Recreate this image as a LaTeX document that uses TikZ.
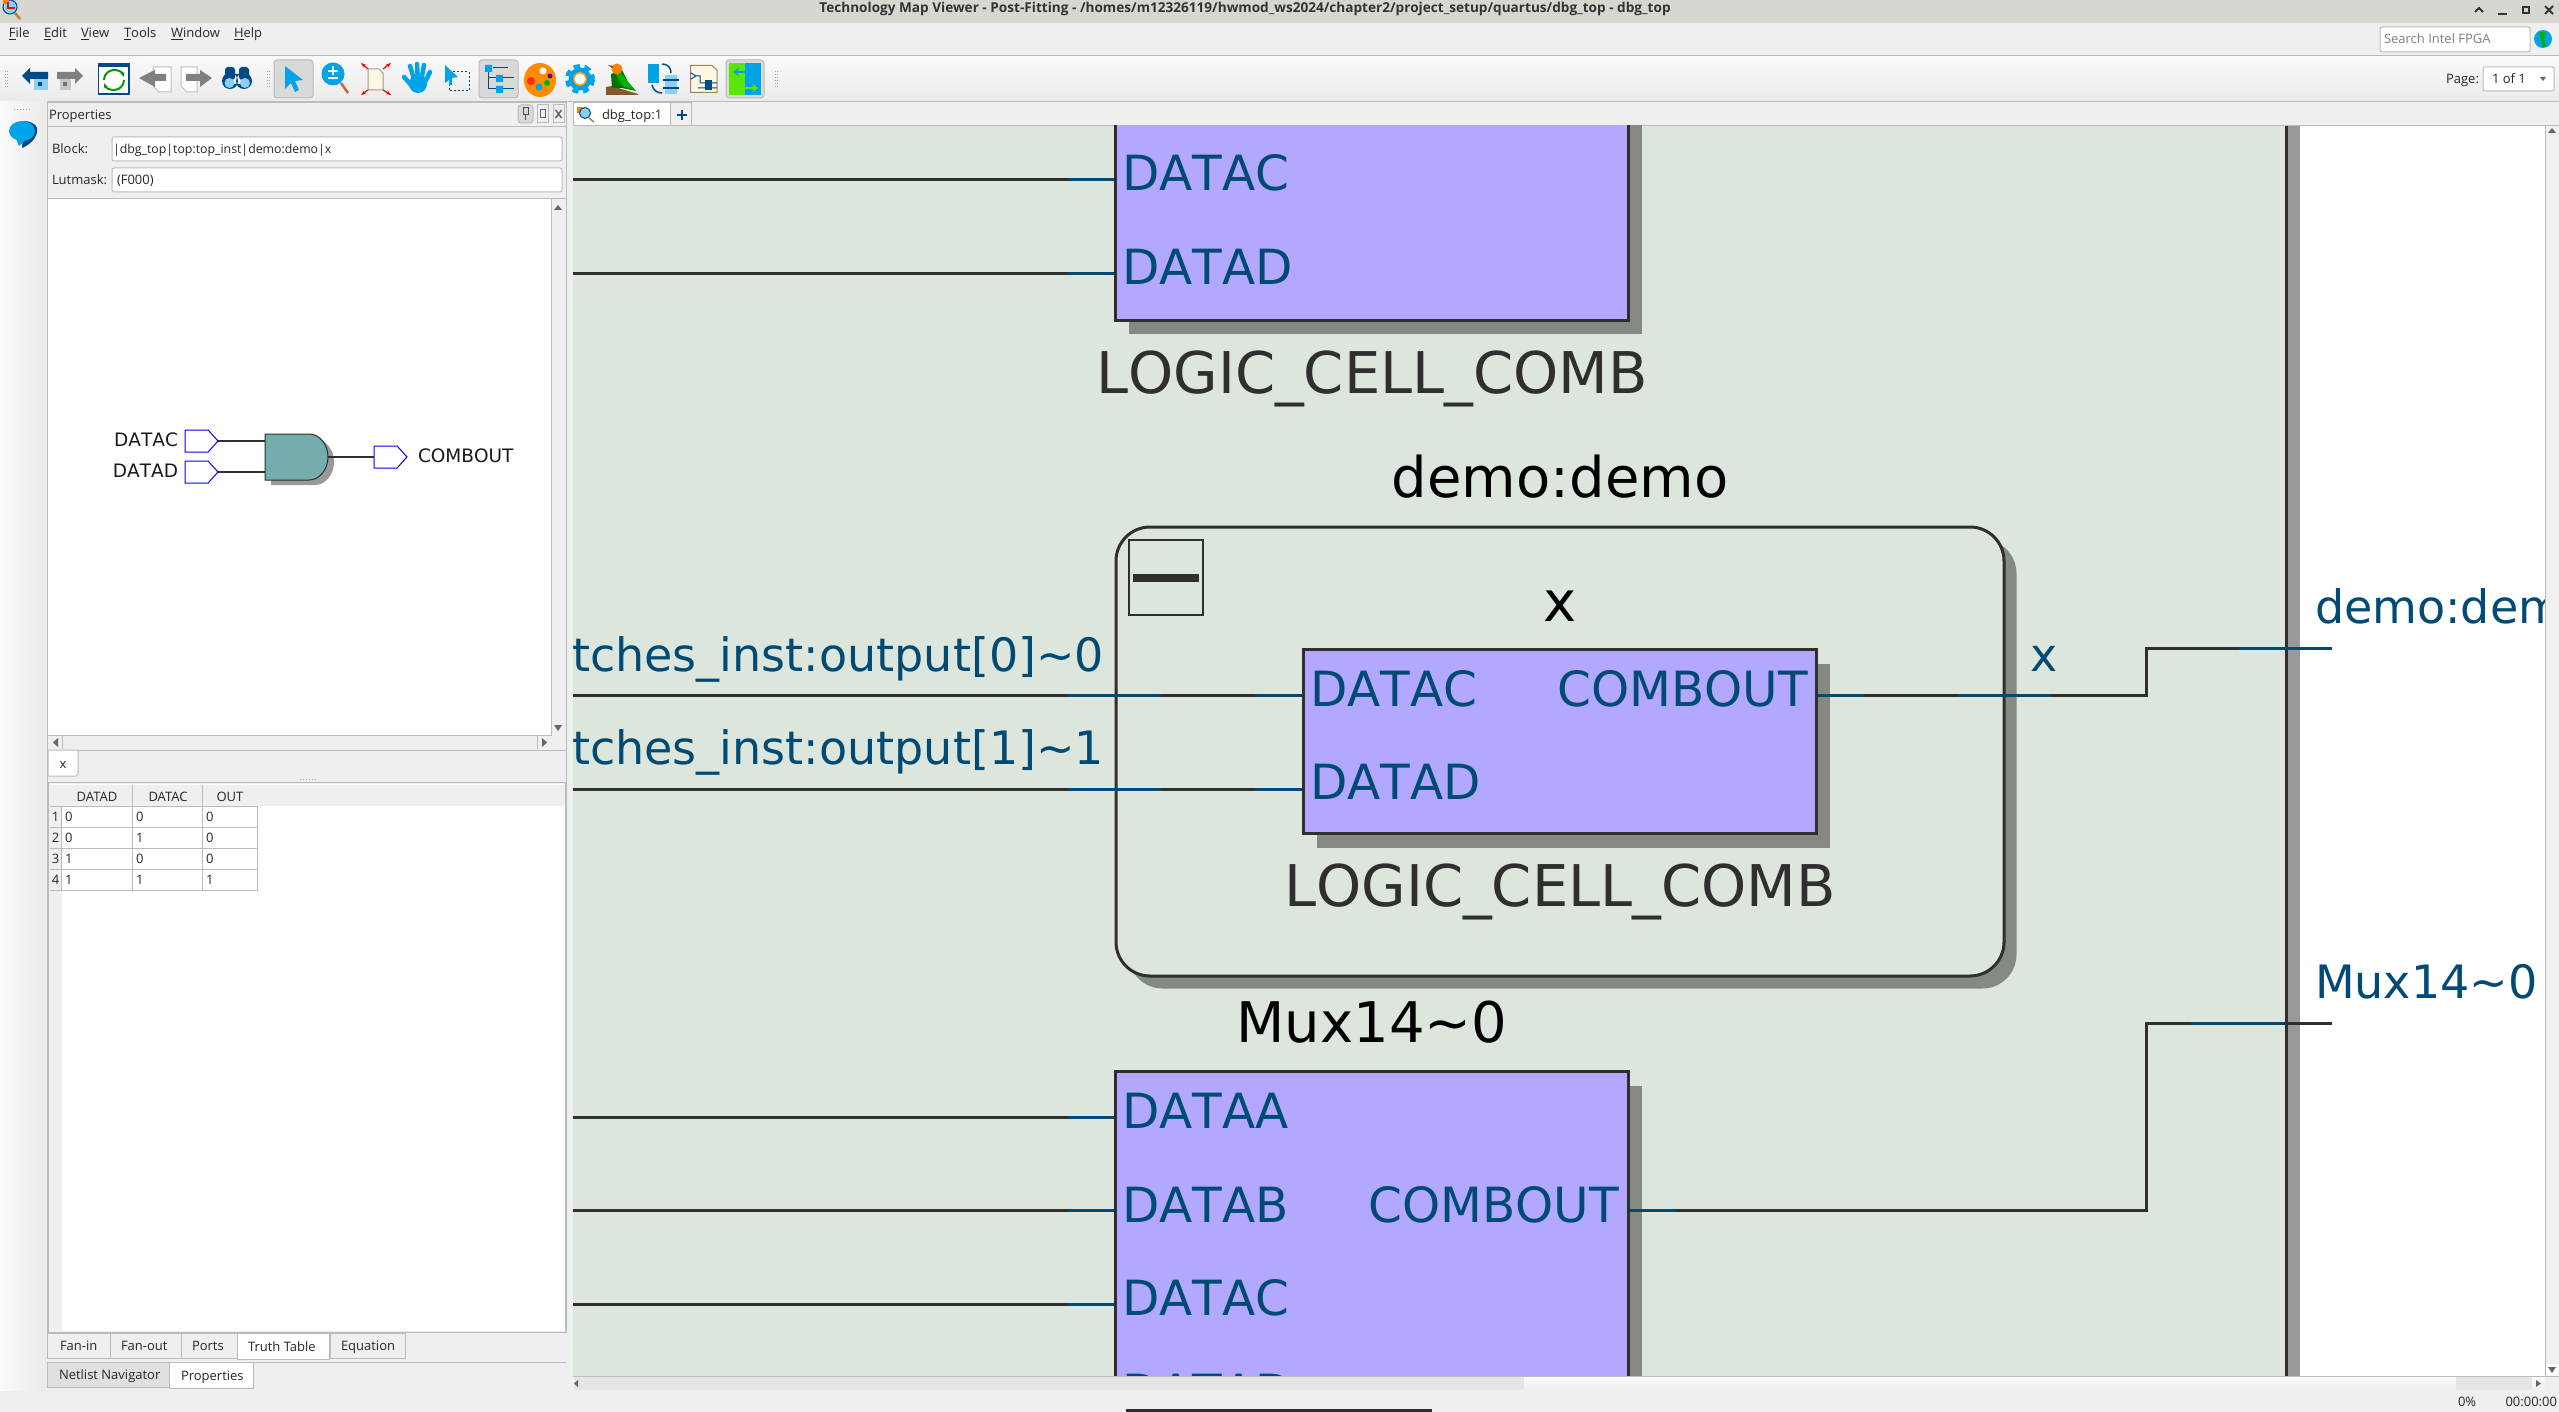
\documentclass[tikz,border=0pt]{standalone}
\usepackage{fontspec}
\setmainfont{Open Sans}
\newfontfamily\netfont[Kerning=Off]{DejaVu Sans}
\usetikzlibrary{positioning,shadows,shapes.symbols,arrows.meta}
\definecolor{canvasbg}{HTML}{DCE6DD}
\definecolor{winbg}{HTML}{EFEFEF}
\definecolor{titlebg}{HTML}{D9D5D1}
\definecolor{uiline}{HTML}{BBBBBB}
\definecolor{cellfill}{HTML}{B2A8FF}
\definecolor{cellshadow}{HTML}{848A82}
\definecolor{netdark}{HTML}{2F2F2D}
\definecolor{netblue}{HTML}{004A74}
\definecolor{navy}{HTML}{004A87}
\definecolor{skyblue}{HTML}{00A2E8}
\definecolor{paleblue}{HTML}{8CD0F0}
\definecolor{cream}{HTML}{FDF6E3}
\definecolor{gatefill}{HTML}{75ACAC}

\begin{document}
\begin{tikzpicture}[x=1pt, y=-1pt, every node/.style={inner sep=0pt, outer sep=0pt}]
  \tikzset{
    ui/.style={anchor=base west, font=\fontsize{13}{15}\selectfont, text=black!85},
    uibtn/.style={draw=uiline, fill=black!15, rounded corners=3pt, line width=1pt},
    uifield/.style={draw=uiline, fill=white, rounded corners=2pt, line width=1pt},
    uitab/.style={draw=uiline, fill=winbg, line width=1pt},
    tick/.style={fill=black!60},
    grip/.style={draw=black!35, line width=1pt, dash pattern=on 1pt off 2pt},
    cell/.style={draw=netdark, line width=3pt, fill=cellfill, rectangle, drop shadow={shadow xshift=13pt, shadow yshift=-14pt, fill=cellshadow, opacity=1}},
    group/.style={draw=netdark, line width=3pt, fill=canvasbg, rectangle, rounded corners=34pt, drop shadow={shadow xshift=12.5pt, shadow yshift=-12.5pt, fill=cellshadow, opacity=1}},
    portlabel/.style={font=\netfont\fontsize{48.5}{50}\selectfont, text=netblue},
    netlabel/.style={font=\netfont\fontsize{46}{50}\selectfont, text=netblue},
    typelabel/.style={font=\netfont\fontsize{57.5}{60}\selectfont, text=netdark},
    instlabel/.style={font=\netfont\fontsize{56}{60}\selectfont, text=black},
    wire/.style={draw=netdark, line width=3pt},
    wireblue/.style={draw=netblue, line width=3pt},
    inwire/.style={wireblue, dash pattern=on 46pt off 2000pt},
    pinbox/.style={draw=blue, fill=white, line width=1pt, signal, signal to=east, signal pointer angle=96, minimum width=33pt, minimum height=22pt},
    previewtext/.style={font=\netfont\fontsize{18.5}{20}\selectfont, text=black!90},
    gatewire/.style={draw=netdark, line width=1.2pt}
  }
  \useasboundingbox (0,0) rectangle (2559,1412);

  % window
  \fill[winbg] (0,0) rectangle (2559,1412);
  \fill[titlebg] (0,0) rectangle (2559,23);
  \shade[top color=black!2, bottom color=black!8] (0,56) rectangle (2559,101);
  \draw[uiline, line width=1pt] (0,55.5) -- (2559,55.5) (0,101.5) -- (2559,101.5);
  \shade[left color=black!2, right color=black!8] (0,102) rectangle (47,1390);

  % title bar
  \fill[paleblue] (10,7) circle (7);
  \draw[navy, line width=1pt] (10,7) circle (7);
  \fill[orange] (3,0) rectangle (9,4);
  \draw[red, line width=1.5pt] (8,2) -- (8,8) -- (15,8);
  \draw[brown, line width=2.5pt] (15,13) -- (20,19);
  \node[anchor=base, font=\bfseries\fontsize{13.6}{15}\selectfont, text=black!80] (wintitle) at (1245,13) {Technology Map Viewer - Post-Fitting - /homes/m12326119/hwmod\_ws2024/chapter2/project\_setup/quartus/dbg\_top - dbg\_top};
  \draw[black!80, line width=2pt] (2475,12) -- (2479,8) -- (2483,12);
  \draw[black!80, line width=2pt] (2498,14) -- (2507,14);
  \draw[black!80, line width=2pt] (2523,7) rectangle (2529,13);
  \draw[black!80, line width=2pt] (2545,6) -- (2553,14) (2553,6) -- (2545,14);

  % menu bar
  \node[ui] (mfile) at (9,38) {\underline{F}ile};
  \node[ui] (medit) at (44,38) {\underline{E}dit};
  \node[ui] (mview) at (81,38) {\underline{V}iew};
  \node[ui] (mtools) at (124,38) {\underline{T}ools};
  \node[ui] (mwindow) at (171,38) {\underline{W}indow};
  \node[ui] (mhelp) at (234,38) {\underline{H}elp};
  \node[uifield, minimum width=150pt, minimum height=25pt] (searchbox) at (2455,39.5) {};
  \node[ui, text=black!50] (searchtext) at (2384,44) {Search Intel FPGA};
  \fill[skyblue] (2543,39) circle (9);
  \fill[green!70!black] (2539,32) -- (2546,33) -- (2544,40) -- (2547,46) -- (2543,47) -- (2541,40) -- cycle;

  % toolbar
  \draw[grip] (5,71) -- (5,88) (7,71) -- (7,88) (267,71) -- (267,88) (269,71) -- (269,88) (775,71) -- (775,88) (777,71) -- (777,88);
  \draw[uibtn] (274,60) rectangle (313,98);
  \draw[uibtn] (479,60) rectangle (518,98);
  \draw[uibtn] (726,60) rectangle (764,98);
  % back and forward
  \fill[paleblue] (34,79) rectangle (48,90);
  \fill[navy] (38,82) rectangle (42,86);
  \fill[navy] (22,76) -- (30,68) -- (30,72) -- (48,72) -- (48,79) -- (30,79) -- (30,84) -- cycle;
  \fill[black!22] (60,79) rectangle (71,90);
  \fill[black!55] (63,82) rectangle (67,86);
  \fill[black!50] (83,76) -- (75,68) -- (75,72) -- (57,72) -- (57,79) -- (75,79) -- (75,84) -- cycle;
  % refresh
  \draw[navy, fill=white, line width=1.5pt] (98.5,63.5) rectangle (129,94);
  \fill[navy] (98,63) rectangle (129.5,67);
  \draw[green!60!black, line width=2pt, -{Stealth[length=5pt]}] (104,80) .. controls (104,74) and (109,70) .. (114,70) .. controls (119,70) and (122,72) .. (124,77);
  \draw[green!60!black, line width=2pt, -{Stealth[length=5pt]}] (124,80) .. controls (124,86) and (119,90) .. (114,90) .. controls (109,90) and (106,88) .. (104,83);
  % page back and forward
  \draw[black!25, fill=white, line width=1pt] (153,67) -- (171,67) -- (171,92) -- (159,92) -- (153,86) -- cycle;
  \fill[black!50] (139,78) -- (155,70) -- (155,74) -- (166,74) -- (166,81) -- (155,81) -- (155,87) -- cycle;
  \draw[black!25, fill=white, line width=1pt] (181,67) -- (197,67) -- (197,92) -- (187,92) -- (181,86) -- cycle;
  \fill[black!50] (212,78) -- (200,70) -- (200,74) -- (186,74) -- (186,81) -- (200,81) -- (200,87) -- cycle;
  % binoculars
  \fill[navy, rounded corners=3pt] (225,67) rectangle (235,80);
  \fill[navy, rounded corners=3pt] (239,67) rectangle (249,80);
  \fill[navy] (230,81) circle (8) (244,81) circle (8) (232,74) rectangle (242,84);
  \fill[paleblue] (229.5,83) circle (5) (245,83) circle (5);
  % cursor tools
  \fill[skyblue] (285,66) -- (303,80) -- (295,81) -- (299,90) -- (295,92) -- (291,83) -- (285,89) -- cycle;
  \draw[brown!80!red, line width=2.5pt] (341,83) -- (348,93);
  \fill[skyblue] (333,74) circle (11.5);
  \draw[white, line width=1.2pt] (328,71) -- (338,71) (333,66.5) -- (333,75.5) (328,78) -- (338,78);
  \draw[black!40, fill=cream, line width=1pt] (368,69) -- (379,69) -- (383,73) -- (383,90) -- (368,90) -- cycle;
  \draw[red, line width=1.2pt, -{Stealth[length=5pt]}] (368,69) -- (361,63);
  \draw[red, line width=1.2pt, -{Stealth[length=5pt]}] (383,69) -- (391,63);
  \draw[red, line width=1.2pt, -{Stealth[length=5pt]}] (368,90) -- (361,95);
  \draw[red, line width=1.2pt, -{Stealth[length=5pt]}] (383,90) -- (391,95);
  % hand
  \draw[skyblue, line width=4.5pt, line cap=round] (415,82) -- (410,66) (418,82) -- (417,64) (421,82) -- (424,65) (424,84) -- (430,72) (412,86) -- (404,77);
  \fill[skyblue] (418,84) circle (9);
  % box select
  \draw[navy, line width=1pt, dash pattern=on 2pt off 2pt] (449,72) rectangle (469,91);
  \fill[skyblue] (445,65) -- (458,77) -- (452,78) -- (452,85) -- (449,85) -- (449,80) -- (445,83) -- cycle;
  % tree
  \draw[navy, line width=1pt] (493,68) -- (508,68) (488,72) -- (488,89) -- (496,89) (488,78) -- (496,78) (503,78) -- (514,78) (503,89) -- (514,89);
  \fill[skyblue] (485,65) rectangle (492,72) (496,75) rectangle (503,82) (496,86) rectangle (503,93);
  % palette
  \fill[orange!90!yellow] (540,80) ellipse (16 and 17);
  \fill[white] (543,71) circle (3.5);
  \fill[violet!80!blue] (550,76) circle (2.5);
  \fill[green!70!black] (547,83) circle (3);
  \fill[skyblue] (539,87) circle (3.5);
  \fill[red!80!pink] (531,81) circle (4);
  % gear
  \draw[skyblue, line width=5pt, dash pattern=on 6pt off 4.5pt] (580,79) circle (12.5);
  \fill[skyblue] (580,79) circle (11.5);
  \fill[orange!80!yellow] (580,79) circle (7);
  \fill[white] (580,79) circle (5.5);
  % bird
  \fill[brown!70!black] (606,95) -- (606,87) -- (612,86) -- (638,94) -- (638,95) -- cycle;
  \fill[green!45!black] (611,74) -- (622,70) -- (628,82) -- (636,91) -- (622,88) -- (612,88) -- cycle;
  \fill[green!70!black] (616,74) -- (622,74) -- (634,90) -- (622,86) -- cycle;
  \fill[orange] (617,69) circle (5.5);
  \fill[black!70] (608,65) -- (613,66) -- (612,68) -- cycle;
  % chip map
  \fill[skyblue] (648,64) rectangle (659,83);
  \fill[paleblue] (665,75) rectangle (677,94);
  \draw[navy, line width=1.5pt] (662,64) .. controls (668,64) and (671,68) .. (671,73);
  \draw[navy, line width=1.5pt] (652,85) .. controls (653,90) and (657,93) .. (662,93);
  \draw[navy, line width=2pt] (663,80) -- (679,80) (663,88) -- (679,88);
  % schematic page
  \draw[brown!60!gray, fill=cream, line width=1pt] (690.5,65.5) -- (712,65.5) -- (717,70) -- (717,92.5) -- (690.5,92.5) -- cycle;
  \draw[navy, line width=1pt] (691,73) -- (696,76) -- (691,79) (696,76) -- (700,76) -- (700,83) -- (717,83) (698,88) -- (717,88);
  \fill[navy] (705,80) rectangle (712,90);
  % view toggle
  \fill[green!60!yellow!90!black] (729,63) rectangle (745,95);
  \fill[skyblue] (745,63) rectangle (761,95);
  \draw[skyblue, line width=2.5pt, -{Stealth[length=6pt, width=9pt]}] (746,72) -- (733,72);
  \draw[green!60!yellow!90!black, line width=2.5pt, -{Stealth[length=6pt, width=9pt]}] (745,88) -- (758,88);
  % page selector
  \node[ui] (pagelabel) at (2446,84) {Page:};
  \node[uifield, minimum width=71pt, minimum height=24pt] (pagebox) at (2518.5,79) {};
  \node[ui] (pagevalue) at (2492,84) {1 of 1};
  \fill[tick] (2540,77) -- (2546,77) -- (2543,81) -- cycle;

  % side strip
  \draw[grip] (14,110) -- (32,110);
  \fill[navy] (22,148) .. controls (36,142) and (38,132) .. (37,128) .. controls (36,124) and (30,121) .. (24,121) -- cycle;
  \fill[skyblue] (22,131) ellipse (13 and 10);
  \fill[skyblue] (16,138) -- (28,138) -- (19,146) -- cycle;

  % properties panel
  \draw[uiline, line width=1pt] (47.5,103) rectangle (566,1332);
  \node[ui] (proptitle) at (49,120) {Properties};
  \draw[uiline, line width=1pt] (47.5,126.5) -- (566,126.5);
  \draw[uibtn] (518,105) rectangle (533,123);
  \draw[black!70, line width=1pt] (523,108) rectangle (528,115) (525.5,115) -- (525.5,120);
  \draw[uiline, line width=1pt] (537,105) rectangle (548,123);
  \draw[black!60, line width=1pt] (540,110) rectangle (545,118);
  \draw[uiline, line width=1pt] (553,105) rectangle (564,123);
  \draw[black!60, line width=1.5pt] (555.5,110) -- (561.5,118) (561.5,110) -- (555.5,118);
  \node[ui] (blocklabel) at (52,153.5) {Block:};
  \node[uifield, minimum width=450pt, minimum height=24pt] (blockfield) at (337,149) {};
  \node[ui, font=\fontsize{12.3}{15}\selectfont] (blockvalue) at (113,153.5) {|dbg\_top|top:top\_inst|demo:demo|x};
  \node[ui] (lutlabel) at (52,185) {Lutmask:};
  \node[uifield, minimum width=450pt, minimum height=24pt] (lutfield) at (337,180) {};
  \node[ui] (lutvalue) at (117,185) {(F000)};

  % preview
  \fill[white] (48,199) rectangle (551,735);
  \draw[uiline, line width=1pt] (47.5,198.5) rectangle (566,750);
  \draw[uiline, line width=1pt] (551,199) -- (551,735) -- (48,735);
  \fill[winbg] (552,199) rectangle (565,734);
  \fill[winbg] (48,736) rectangle (551,749);
  \fill[tick] (554,210) -- (562,210) -- (558,205) -- cycle;
  \fill[tick] (554,725) -- (562,725) -- (558,731) -- cycle;
  \fill[tick] (58,738) -- (58,747) -- (53,742.5) -- cycle;
  \fill[tick] (542,738) -- (542,747) -- (547,742.5) -- cycle;
  \draw[uiline, line width=1pt] (62.5,736) -- (62.5,749) (537.5,736) -- (537.5,749);

  \node[pinbox, anchor=east] (pinc) at (218,441) {};
  \node[pinbox, anchor=east] (pind) at (218,472) {};
  \node[pinbox, anchor=east] (pinout) at (407,457) {};
  \node[previewtext, anchor=base east] (labc) at (178,446) {DATAC};
  \node[previewtext, anchor=base east] (labd) at (178,477) {DATAD};
  \node[previewtext, anchor=base west] (labout) at (418,462) {COMBOUT};
  \coordinate (gatec) at (265,441);
  \coordinate (gated) at (265,472);
  \coordinate (gateout) at (328,457);
  \fill[black!40] (271,439) -- (315,439) .. controls (325.5,439) and (334,449.3) .. (334,462) .. controls (334,474.7) and (325.5,485) .. (315,485) -- (271,485) -- cycle;
  \draw[netdark, fill=gatefill, line width=1pt] (265,434) -- (309,434) .. controls (319.5,434) and (328,444.3) .. (328,457) .. controls (328,469.7) and (319.5,480) .. (309,480) -- (265,480) -- cycle;
  \draw[gatewire] (pinc.east) -- (gatec);
  \draw[gatewire] (pind.east) -- (gated);
  \draw[gatewire] (gateout) -- (pinout.west);

  % truth table tab
  \draw[uiline, fill=white, line width=1pt] (48,750) -- (78,750) -- (78,774) -- (76,776) -- (48,776) -- cycle;
  \node[ui, anchor=base] (tabx) at (63,768) {x};
  \draw[grip] (300,779) -- (316,779);
  \fill[white] (50,784) rectangle (565,1331);
  \draw[uiline, line width=1pt] (48.5,782.5) rectangle (565.5,1332);
  \fill[winbg] (50,785) rectangle (565,806);
  \fill[winbg] (50,785) rectangle (61.5,1331);
  \draw[uiline, line width=1pt] (50,806) -- (257.5,806) (50,827) -- (257.5,827) (50,848) -- (257.5,848) (50,869) -- (257.5,869) (50,890) -- (257.5,890);
  \draw[uiline, line width=1pt] (61.5,806) -- (61.5,890) (132.5,785) -- (132.5,890) (202.5,785) -- (202.5,890) (257.5,806) -- (257.5,890);

  \node[ui, anchor=base] (hdatad) at (97,801) {DATAD};
  \node[ui, anchor=base] (hdatac) at (168,801) {DATAC};
  \node[ui, anchor=base] (hout) at (230,801) {OUT};
  \node[ui, anchor=base] (row1) at (55.5,821.5) {1};
  \node[ui] (c11) at (65,821.5) {0};
  \node[ui] (c12) at (136,821.5) {0};
  \node[ui] (c13) at (206,821.5) {0};
  \node[ui, anchor=base] (row2) at (55.5,842.5) {2};
  \node[ui] (c21) at (65,842.5) {0};
  \node[ui] (c22) at (136,842.5) {1};
  \node[ui] (c23) at (206,842.5) {0};
  \node[ui, anchor=base] (row3) at (55.5,863.5) {3};
  \node[ui] (c31) at (65,863.5) {1};
  \node[ui] (c32) at (136,863.5) {0};
  \node[ui] (c33) at (206,863.5) {0};
  \node[ui, anchor=base] (row4) at (55.5,884.5) {4};
  \node[ui] (c41) at (65,884.5) {1};
  \node[ui] (c42) at (136,884.5) {1};
  \node[ui] (c43) at (206,884.5) {1};

  % lower tabs
  \draw[uitab] (47.5,1333) rectangle (110,1358);
  \draw[uitab] (110,1333) rectangle (181,1358);
  \draw[uitab] (181,1333) rectangle (237,1358);
  \draw[uitab] (330,1333) rectangle (405,1358);
  \draw[uiline, fill=white, line width=1pt] (237,1333) rectangle (329.5,1359);
  \node[ui] (tabfanin) at (60,1350) {Fan-in};
  \node[ui] (tabfanout) at (121,1350) {Fan-out};
  \node[ui] (tabports) at (192,1350) {Ports};
  \node[ui] (tabtruth) at (248,1351) {Truth Table};
  \node[ui] (tabequation) at (341,1350) {Equation};
  \draw[uiline, line width=1pt] (253,1362) -- (566,1362);
  \draw[uiline, fill=black!12, line width=1pt] (47.5,1362) rectangle (169,1387);
  \draw[uiline, fill=white, line width=1pt] (169.5,1362) rectangle (253,1388);
  \node[ui] (tabnetlist) at (59,1379) {Netlist Navigator};
  \node[ui] (tabprops) at (181,1380) {Properties};

  % schematic tab
  \draw[uiline, fill=white, line width=1pt] (573.5,126) -- (573.5,103) -- (670,103) -- (670,126) -- cycle;
  \draw[uiline, line width=1pt] (670,103) rectangle (691,126);
  \fill[orange] (577,107) rectangle (583,113);
  \fill[paleblue] (585,113) circle (5.5);
  \draw[navy, line width=1pt] (585,113) circle (5.5);
  \draw[brown, line width=1.5pt] (589,118) -- (594,122);
  \node[ui] (sheettab) at (602,120) {dbg\_top:1};
  \draw[navy, line width=1.5pt] (682,110) -- (682,120) (677,115) -- (687,115);
  \draw[uiline, line width=1pt] (691,125.5) -- (2559,125.5);

  % schematic canvas
  \begin{scope}
    \clip (573,126) rectangle (2545,1376);
    \fill[white] (2286,126) rectangle (2545,1376);
    \fill[canvasbg] (573,126) rectangle (2286,1376);
    \fill[black!40] (2288,126) rectangle (2300,1376);
    \draw[wire] (2286.5,126) -- (2286.5,1376);

    \node[cell, minimum width=513pt, minimum height=400pt] (topcell) at (1372,120.5) {};
    \node[portlabel, anchor=base west] (topc) at (1122,191) {DATAC};
    \node[portlabel, anchor=base west] (topd) at (1122,285) {DATAD};
    \node[typelabel, below=30pt of topcell] (toptype) {LOGIC\_CELL\_COMB};

    \node[group, minimum width=888pt, minimum height=449pt] (demobox) at (1560,751.5) {};
    \node[instlabel, above=29pt of demobox] (demoname) {demo:demo};
    \node[draw=netdark, line width=2.5pt, minimum width=74pt, minimum height=75pt] (foldbtn) at (1166,577.5) {};
    \node[fill=netdark, minimum width=66pt, minimum height=8pt] (foldbar) at (foldbtn) {};

    \node[cell, minimum width=513pt, minimum height=184pt] (xcell) at (1560,741.5) {};
    \node[instlabel, above=28.5pt of xcell] (xname) {x};
    \node[portlabel, anchor=base west] (xc) at (1310,706) {DATAC};
    \node[portlabel, anchor=base west] (xd) at (1310,799) {DATAD};
    \node[portlabel, anchor=base east] (xout) at (1808,706) {COMBOUT};
    \node[typelabel, below=30pt of xcell] (xtype) {LOGIC\_CELL\_COMB};

    \node[cell, minimum width=513pt, minimum height=528pt] (muxcell) at (1372,1335.5) {};
    \node[instlabel, above=28pt of muxcell] (muxname) {Mux14\textasciitilde 0};
    \node[portlabel, anchor=base west] (muxa) at (1122,1128) {DATAA};
    \node[portlabel, anchor=base west] (muxb) at (1122,1222) {DATAB};
    \node[portlabel, anchor=base west] (muxc) at (1122,1315) {DATAC};
    \node[portlabel, anchor=base west] (muxd) at (1122,1409) {DATAD};
    \node[portlabel, anchor=base east] (muxout) at (1619,1222) {COMBOUT};

    \node[netlabel, anchor=base east] (net0) at (1104,671) {tches\_inst:output[0]\textasciitilde 0};
    \node[netlabel, anchor=base east] (net1) at (1104,764) {tches\_inst:output[1]\textasciitilde 1};
    \node[netlabel, anchor=base] (netx) at (2044,671) {x};
    \node[netlabel, anchor=base west] (netdemo) at (2315,623) {demo:dem};
    \node[netlabel, anchor=base west] (netmux) at (2315,998) {Mux14\textasciitilde 0};

    \coordinate (leftc) at (573,180);
    \coordinate (leftd) at (573,274);
    \coordinate (left0) at (573,695);
    \coordinate (left1) at (573,789);
    \coordinate (lefta2) at (573,1117);
    \coordinate (leftb2) at (573,1210);
    \coordinate (leftc2) at (573,1304);
    \coordinate (topcin) at (1114,180);
    \coordinate (topdin) at (1114,274);
    \coordinate (xcin) at (1302,695);
    \coordinate (xdin) at (1302,789);
    \coordinate (xoutp) at (1818,695);
    \coordinate (muxain) at (1114,1117);
    \coordinate (muxbin) at (1114,1210);
    \coordinate (muxcin) at (1114,1304);
    \coordinate (muxoutp) at (1630,1210);
    \coordinate (demopin) at (2332,648);
    \coordinate (muxpin) at (2332,1023);

    \draw[wire] (topcin) -- (leftc);
    \draw[wire] (topdin) -- (leftd);
    \draw[inwire] (topcin) -- (leftc);
    \draw[inwire] (topdin) -- (leftd);
    \draw[wire] (xcin) -- (left0);
    \draw[wire] (xdin) -- (left1);
    \draw[wireblue, dash pattern=on 47pt off 94pt on 93pt off 2000pt] (xcin) -- (left0);
    \draw[wireblue, dash pattern=on 47pt off 94pt on 93pt off 2000pt] (xdin) -- (left1);
    \draw[wire] (muxain) -- (lefta2);
    \draw[wire] (muxbin) -- (leftb2);
    \draw[wire] (muxcin) -- (leftc2);
    \draw[inwire] (muxain) -- (lefta2);
    \draw[inwire] (muxbin) -- (leftb2);
    \draw[inwire] (muxcin) -- (leftc2);
    \draw[wire] (xoutp) -| (2146,648) -- (demopin);
    \draw[wireblue, dash pattern=on 46pt off 94pt on 93pt off 235pt on 93pt off 100pt] (xoutp) -| (2146,648) -- (demopin);
    \draw[wire] (muxoutp) -| (2146,1023) -- (muxpin);
    \draw[wireblue, dash pattern=on 46pt off 702pt on 93pt off 100pt] (muxoutp) -| (2146,1023) -- (muxpin);
  \end{scope}

  % scrollbars
  \fill[black!6] (2545,126) rectangle (2559,1376);
  \draw[uiline, line width=1pt] (2545,126) -- (2545,1376);
  \fill[white] (2546,1364) rectangle (2559,1376);
  \fill[tick] (2548,1367) -- (2556,1367) -- (2552,1373) -- cycle;
  \fill[tick] (2548,133) -- (2556,133) -- (2552,128) -- cycle;
  \shade[top color=black!2, bottom color=winbg] (573,1377) rectangle (2545,1390);
  \fill[black!10] (574,1377) rectangle (1524,1390);
  \fill[black!10] (2456,1377) rectangle (2532,1390);
  \draw[uiline, line width=1pt] (573,1376.5) -- (2559,1376.5);
  \fill[tick] (578,1380) -- (578,1387) -- (574,1383.5) -- cycle;
  \fill[tick] (2536,1380) -- (2536,1387) -- (2541,1383.5) -- cycle;

  % status bar
  \node[ui] (statuspct) at (2458,1406) {0\%};
  \node[ui, anchor=base east] (statustime) at (2557,1406) {00:00:00};
  \node[fill=netdark, minimum width=306pt, minimum height=3pt] (statusbar) at (1279,1410.5) {};
\end{tikzpicture}
\end{document}
